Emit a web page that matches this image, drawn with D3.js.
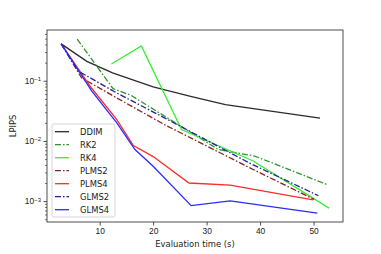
<!DOCTYPE html>
<html>
<head>
<meta charset="utf-8">
<script src="https://cdn.jsdelivr.net/npm/d3@7"></script>
<style>
  body { margin: 0; background: #fff; }
  svg { font-family: "DejaVu Sans", sans-serif; }
</style>
</head>
<body>
<div id="chart"></div>
<script>
// evaluation time (s) and LPIPS per method
const ddimT = [2.8, 7.6, 12.4, 20, 27, 33.5, 51.2];
const ddimV = [0.41, 0.21, 0.135, 0.079, 0.055, 0.040, 0.024];
const rk2T = [5.8, 12.5, 15.9, 32.2, 39, 52.7];
const rk2V = [0.49, 0.074, 0.057, 0.0072, 0.0056, 0.00186];
const rk4T = [12.2, 17.8, 25.3, 38.7, 52.9];
const rk4V = [0.19, 0.38, 0.0155, 0.00464, 0.000766];
const plms2T = [2.8, 6.6, 13, 22.2, 38, 50.1];
const plms2V = [0.41, 0.112, 0.053, 0.0185, 0.0036, 0.00107];
const plms4T = [2.8, 8.5, 13.2, 16.3, 20, 26.7, 34.4, 49.9];
const plms4V = [0.41, 0.075, 0.0226, 0.0084, 0.0055, 0.0020, 0.00184, 0.00105];
const glms2T = [2.8, 6, 13, 22.2, 38, 50.9];
const glms2V = [0.41, 0.145, 0.064, 0.024, 0.0043, 0.00123];
const glms4T = [2.8, 8.5, 13.2, 16.6, 20, 27.1, 34.4, 50.7];
const glms4V = [0.41, 0.068, 0.02, 0.0072, 0.0038, 0.00084, 0.00101, 0.00063];

const names = ['DDIM', 'RK2', 'RK4', 'PLMS2', 'PLMS4', 'GLMS2', 'GLMS4'];
const xTicks = [10, 20, 30, 40, 50];
const yTicks = [1e-3, 1e-2, 1e-1];

const series = [
    { name: names[0], t: ddimT, v: ddimV, color: '#2b2b2b', dash: null },
    { name: names[1], t: rk2T, v: rk2V, color: '#2a962a', dash: '6,2,1.5,2' },
    { name: names[2], t: rk4T, v: rk4V, color: '#33ee33', dash: null },
    { name: names[3], t: plms2T, v: plms2V, color: '#8b2020', dash: '6,2,1.5,2' },
    { name: names[4], t: plms4T, v: plms4V, color: '#ff2a2a', dash: null },
    { name: names[5], t: glms2T, v: glms2V, color: '#22229a', dash: '6,2,1.5,2' },
    { name: names[6], t: glms4T, v: glms4V, color: '#2a2aff', dash: null }
];

const width = 381, height = 254;
const margin = { top: 30, right: 38, bottom: 32, left: 47 };

const svg = d3.select('#chart').append('svg')
    .attr('width', width)
    .attr('height', height);

const x = d3.scaleLinear()
    .domain([0.15, 55.5])
    .range([margin.left, width - margin.right]);

const y = d3.scaleLog()
    .domain([4.5e-4, 0.697])
    .range([height - margin.bottom, margin.top]);

// x axis
const xAxis = svg.append('g')
    .attr('transform', `translate(0,${height - margin.bottom})`)
    .call(d3.axisBottom(x).tickValues(xTicks).tickSize(3.5).tickPadding(2.5).tickFormat(d3.format('d')));
xAxis.select('.domain').remove();
xAxis.selectAll('text').attr('font-size', 8.4).attr('fill', '#222');
xAxis.selectAll('line').attr('stroke', '#222').attr('stroke-width', 0.8);

// y axis: minor ticks
const minor = [];
[1e-4, 1e-3, 1e-2, 1e-1].forEach(b => {
    for (let k = 2; k <= 9; k++) {
        const v = b * k;
        if (v >= y.domain()[0] && v <= y.domain()[1]) minor.push(v);
    }
});
const yMinor = svg.append('g')
    .attr('transform', `translate(${margin.left},0)`)
    .call(d3.axisLeft(y).tickValues(minor).tickSize(2).tickFormat(''));
yMinor.select('.domain').remove();
yMinor.selectAll('line').attr('stroke', '#222').attr('stroke-width', 0.6);

const yAxis = svg.append('g')
    .attr('transform', `translate(${margin.left},0)`)
    .call(d3.axisLeft(y).tickValues(yTicks).tickSize(3.5).tickPadding(2.5).tickFormat(''));
yAxis.select('.domain').remove();
yAxis.selectAll('line').attr('stroke', '#222').attr('stroke-width', 0.8);
yAxis.selectAll('.tick').each(function (d) {
    const t = d3.select(this).append('text')
        .attr('x', -6)
        .attr('dy', '0.32em')
        .attr('text-anchor', 'end')
        .attr('font-size', 8.4)
        .attr('fill', '#222');
    t.append('tspan').text('10');
    t.append('tspan')
        .attr('dy', '-0.45em')
        .attr('font-size', 6)
        .text('\u2212' + Math.round(-Math.log10(d)));
});

// lines
const line = d3.line()
    .x(d => x(d[0]))
    .y(d => y(d[1]));

const plot = svg.append('g');
series.forEach(s => {
    plot.append('path')
        .datum(s.t.map((t, i) => [t, s.v[i]]))
        .attr('d', line)
        .attr('fill', 'none')
        .attr('stroke', s.color)
        .attr('stroke-width', 1.3)
        .attr('stroke-dasharray', s.dash);
});

// frame
svg.append('rect')
    .attr('x', margin.left)
    .attr('y', margin.top)
    .attr('width', width - margin.left - margin.right)
    .attr('height', height - margin.top - margin.bottom)
    .attr('fill', 'none')
    .attr('stroke', '#222')
    .attr('stroke-width', 0.8);

// axis labels
svg.append('text')
    .attr('x', (margin.left + width - margin.right) / 2)
    .attr('y', 247)
    .attr('text-anchor', 'middle')
    .attr('font-size', 8.4)
    .attr('fill', '#222')
    .text('Evaluation time (s)');

svg.append('text')
    .attr('transform', `translate(16,${(margin.top + height - margin.bottom) / 2}) rotate(-90)`)
    .attr('text-anchor', 'middle')
    .attr('font-size', 8.4)
    .attr('fill', '#222')
    .text('LPIPS');

// legend
const legend = svg.append('g').attr('transform', 'translate(52,124)');
legend.append('rect')
    .attr('width', 63)
    .attr('height', 93)
    .attr('rx', 2)
    .attr('fill', '#fff')
    .attr('fill-opacity', 0.8)
    .attr('stroke', '#ccc')
    .attr('stroke-width', 0.8);
series.forEach((s, i) => {
    const gy = 7.7 + i * 13;
    legend.append('line')
        .attr('x1', 3).attr('x2', 17)
        .attr('y1', gy).attr('y2', gy)
        .attr('stroke', s.color)
        .attr('stroke-width', 1.3)
        .attr('stroke-dasharray', s.dash);
    legend.append('text')
        .attr('x', 28)
        .attr('y', gy)
        .attr('dy', '0.35em')
        .attr('font-size', 8.4)
        .attr('fill', '#222')
        .text(s.name);
});
</script>
</body>
</html>
